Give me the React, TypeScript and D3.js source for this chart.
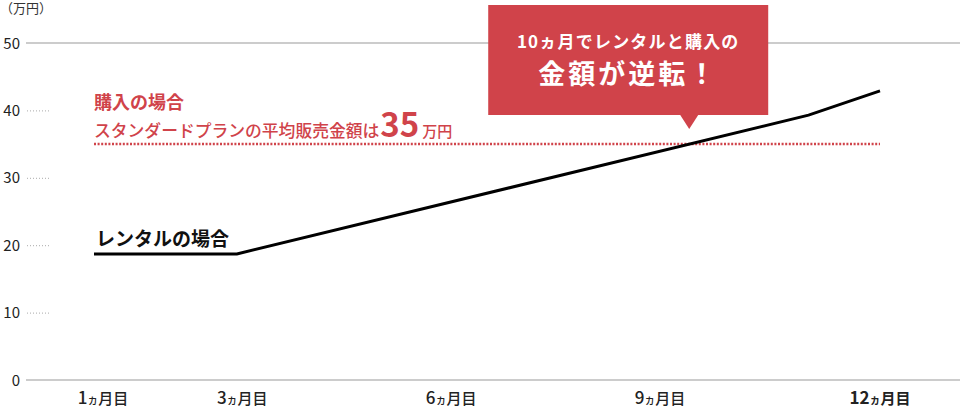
import React from 'react';
import * as d3 from 'd3';

const RED = '#d0434a';
const FONT = '"Noto Sans CJK JP", "Noto Sans", sans-serif';

// rental cost curve (month, 万円)
const rentalMonths = [1, 3, 11, 12];
const rentalValues = [18.7, 18.7, 39.3, 42.9];
const purchaseValue = 35;
const yTicks = [0, 10, 20, 30, 40, 50];
const xTickMonths = [1, 3, 6, 9, 12];

const W = 960;
const H = 408;

const App: React.FC = () => {
  const y = d3.scaleLinear().domain([0, 50]).range([380, 43]);
  const lineX = d3.scaleLinear().domain([1, 12]).range([94, 880]);
  const tickX = d3.scaleLinear().domain([1, 9]).range([103, 660]);

  const data = rentalMonths.map((m, i) => ({ m, v: rentalValues[i] }));
  const line = d3.line<{ m: number; v: number }>()
    .x(d => lineX(d.m))
    .y(d => y(d.v));

  // where rental overtakes purchase
  let crossM = 12;
  for (let i = 1; i < data.length; i++) {
    const a = data[i - 1], b = data[i];
    if (a.v < purchaseValue && b.v >= purchaseValue) {
      crossM = a.m + (purchaseValue - a.v) / (b.v - a.v) * (b.m - a.m);
      break;
    }
  }
  const cx = lineX(crossM);
  const boxW = 280;
  const boxL = cx - 201;
  const boxTop = 5;
  const boxBottom = 115;
  const tipY = 129;

  return (
    <svg width={W} height={H} style={{ position: 'absolute', left: 0, top: 0 }} fontFamily={FONT}>
      <rect width={W} height={H} fill="#fff" />
      <text x={0} y={13} fontSize={13} fill="#333">（万円）</text>

      {yTicks.map(t => (
        <g key={t}>
          <text x={20} y={y(t) + 5.5} fontSize={15} fill="#222" textAnchor="end">{t}</text>
          {t === 0 || t === 50 ? (
            <line x1={26} x2={W} y1={y(t)} y2={y(t)} stroke="#999" strokeWidth={1} />
          ) : (
            <line x1={27} x2={50} y1={y(t) + 0.5} y2={y(t) + 0.5} stroke="#aaa" strokeWidth={1} strokeDasharray="1,2" />
          )}
        </g>
      ))}

      {xTickMonths.map(m => {
        const last = m === 12;
        const xx = last ? 880 : tickX(m);
        return (
          <text key={m} x={xx} y={404} textAnchor="middle" fill="#222" fontWeight={last ? 700 : 500}>
            <tspan fontSize={17}>{m}</tspan>
            <tspan fontSize={11}>ヵ</tspan>
            <tspan fontSize={15}>月目</tspan>
          </text>
        );
      })}

      {/* purchase reference */}
      <line x1={lineX(1)} x2={lineX(12)} y1={y(purchaseValue)} y2={y(purchaseValue)}
        stroke={RED} strokeWidth={2.5} strokeDasharray="2,1.6" />
      <text x={94} y={109} fontSize={18} fontWeight={700} fill={RED}>購入の場合</text>
      <text x={94} y={137} fill={RED} fontWeight={500}>
        <tspan fontSize={16.8}>スタンダードプランの平均販売金額は</tspan>
        <tspan fontSize={33} fontWeight={700} dx={1}>{purchaseValue}</tspan>
        <tspan fontSize={15} dx={3}>万円</tspan>
      </text>

      {/* rental */}
      <path d={line(data) ?? ''} fill="none" stroke="#000" strokeWidth={3} />
      <text x={96} y={246} fontSize={19} fontWeight={700} fill="#111">レンタルの場合</text>

      {/* callout */}
      <rect x={boxL} y={boxTop} width={boxW} height={boxBottom - boxTop} fill={RED} />
      <path d={`M${cx - 9},${boxBottom} L${cx + 9},${boxBottom} L${cx},${tipY} Z`} fill={RED} />
      <text x={boxL + boxW / 2} y={48} textAnchor="middle" fontSize={17} fontWeight={700} fill="#fff" letterSpacing={1.2}>10ヵ月でレンタルと購入の</text>
      <text x={boxL + boxW / 2} y={84} textAnchor="middle" fontSize={27} fontWeight={700} fill="#fff" letterSpacing={3}>金額が逆転！</text>
    </svg>
  );
};

export default App;
